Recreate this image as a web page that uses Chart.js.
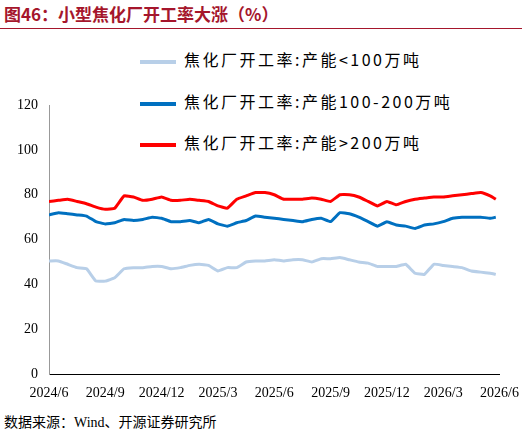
<!DOCTYPE html><html><head><meta charset="utf-8">
<script src="https://cdn.jsdelivr.net/npm/chart.js@4"></script>
<style>
body{margin:0;width:522px;height:436px;background:#fff;position:relative;font-family:"Noto Sans CJK SC";}
#t{position:absolute;left:4px;top:1px;font-size:17px;font-weight:bold;color:#a5162c;}
#ln{position:absolute;left:0;top:28px;width:522px;height:1px;background:#a5162c;}
#s{position:absolute;left:4px;top:411px;font-size:14px;color:#000;font-family:"Noto Sans CJK SC";}
#s span{font-family:"Liberation Serif"}
.lg{position:absolute;left:140px;font-size:16px;color:#000;letter-spacing:2.5px;}
.lg i{display:inline-block;width:36px;height:4px;vertical-align:middle;margin-right:8px;}
#c{position:absolute;left:0;top:35px;}
</style></head><body>
<div id="t">图46：小型焦化厂开工率大涨（%）</div><div id="ln"></div>
<div class="lg" style="top:47px"><i style="background:#b8cfe8"></i>焦化厂开工率:产能&lt;100万吨</div>
<div class="lg" style="top:89px"><i style="background:#0070c0"></i>焦化厂开工率:产能100-200万吨</div>
<div class="lg" style="top:130px"><i style="background:#ff0000"></i>焦化厂开工率:产能&gt;200万吨</div>
<canvas id="c" width="522" height="370"></canvas>
<div id="s">数据来源：<span>Wind</span>、开源证券研究所</div>
<script>
const months=[0,0.5,1,1.5,2,2.5,3,3.5,4,4.5,5,5.5,6,6.5,7,7.5,8,8.5,9,9.5,10,10.5,11,11.5,12,12.5,13,13.5,14,14.5,15,15.5,16,16.5,17,17.5,18,18.5,19,19.5,20,20.5,21,21.5,22,22.5,23,23.5,23.8];
const tickLabels=["2024/6","2024/9","2024/12","2025/3","2025/6","2025/9","2025/12","2026/3","2026/6"];
const small=[50.5,50.5,49,47.5,47,41.5,41.5,43,47,47.5,47.5,48,48,47,47.5,48.5,49,48.5,46,47.5,47.5,50,50.5,50.5,51,50.5,51,51,50,51.5,51.5,52,51,50,49.5,48,48,48,49,45,44.5,49,48.5,48,47.5,46,45.5,45,44.5];
const mid=[71,72,71.5,71,70.5,68,67,67.5,69,68.5,69,70,69.5,68,68,68.5,67.5,69,67,66,67.5,68.5,70.5,70,69.5,69,68.5,68,69,69.5,68,72,71.5,70,68,66,68,66.5,66,65,66.5,67,68,69.5,70,70,70,69.5,70];
const large=[77,77.5,78,77,76,74.5,73.5,74,79.5,79,77.5,78,79,77.5,77.5,78,77.5,77,75,74,78,79.5,81,81,80,78,78,78,78.5,78,77,80,80,79,77,75,77,75.5,77,78,78.5,79,79,79.5,80,80.5,81,79.5,78];
const mk=(a)=>months.map((m,i)=>({x:m,y:a[i]}));
const ds=(d,c)=>({data:mk(d),borderColor:c,borderWidth:3,pointRadius:0,tension:0.1,fill:false});
new Chart(document.getElementById('c'),{type:'line',data:{datasets:[ds(small,'#b8cfe8'),ds(mid,'#0070c0'),ds(large,'#ff0000')]},
options:{responsive:false,animation:false,layout:{padding:{top:70,right:4,left:14}},plugins:{legend:{display:false},tooltip:{enabled:false}},
scales:{x:{type:'linear',min:0,max:24,grid:{display:false,drawTicks:true},border:{color:'#000'},ticks:{stepSize:3,autoSkip:false,maxRotation:0,color:'#000',font:{family:'Liberation Serif',size:14},callback:(v)=>tickLabels[v/3]}},
y:{min:0,max:120,grid:{display:false},border:{color:'#999'},ticks:{stepSize:20,color:'#000',font:{family:'Liberation Serif',size:14}}}}}});
</script></body></html>
